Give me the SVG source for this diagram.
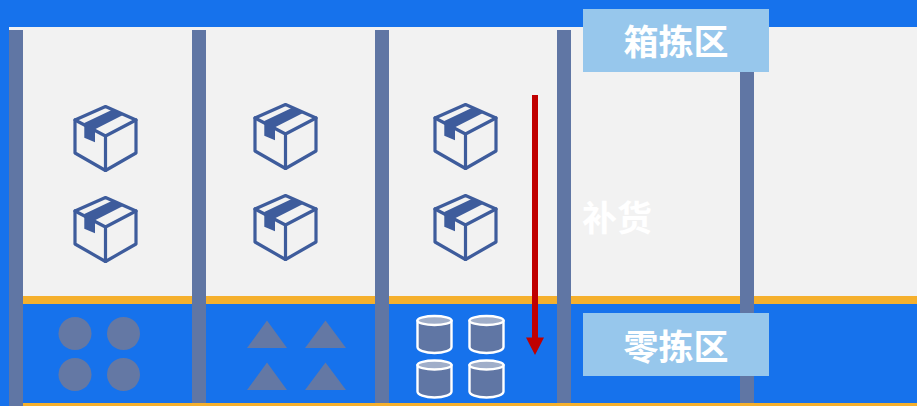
<svg xmlns="http://www.w3.org/2000/svg" width="917" height="406" viewBox="0 0 917 406">
<style>
.pillar{fill:#6076A4}
.shape{fill:#6478A4}
.band{fill:#F5B02D}
.label{fill:#97C7EC}
.t{font-family:"Noto Sans CJK SC","Noto Sans",sans-serif;font-weight:700;font-size:35px;fill:#fff;text-anchor:middle}
.box{fill:none;stroke:#3E5C9C;stroke-width:3.2;stroke-linejoin:round;stroke-linecap:round}
.tape{fill:#3E5C9C}
.cyl{fill:#6076A4;stroke:#fff;stroke-width:2.4}
.cap{fill:#A0AEC9;stroke:#fff;stroke-width:2.4}
</style>
<defs>
<g id="boxicon">
<path class="box" d="M30.500 0.500L61 14V47L30.500 64.500L0 47V14Z"/>
<path class="box" d="M0 14L30.500 30L61 14M30.500 30V64.500"/>
<path class="tape" d="M9.300 17L36.700 4L48 9L20 23.300V36.300L9.300 31.700Z"/>
</g>
<g id="cylicon">
<path class="cyl" d="M1 6V32C1 35 8 38 18 38C28 38 35 35 35 32V6Z"/>
<ellipse class="cap" cx="18" cy="5.500" rx="17" ry="4.500"/>
</g>
</defs>
<rect id="background" width="917" height="406" fill="#1672EC"/>
<rect id="upper-zone" x="9" y="27" width="908" height="269" fill="#F2F2F2"/>
<rect id="orange-band" class="band" x="9" y="296" width="908" height="8"/>
<rect id="orange-floor" class="band" x="9" y="403" width="908" height="3"/>
<g id="pillars">
<rect class="pillar" x="9" y="30" width="14" height="376"/>
<rect class="pillar" x="192" y="30" width="14" height="373"/>
<rect class="pillar" x="375" y="30" width="14" height="373"/>
<rect class="pillar" x="557" y="30" width="14" height="373"/>
<rect class="pillar" x="740" y="30" width="14" height="373"/>
</g>
<g id="boxes-col1"><use href="#boxicon" x="75" y="106"/><use href="#boxicon" x="75" y="197"/></g>
<g id="boxes-col2"><use href="#boxicon" x="255" y="104"/><use href="#boxicon" x="255" y="195"/></g>
<g id="boxes-col3"><use href="#boxicon" x="435" y="104"/><use href="#boxicon" x="435" y="195"/></g>
<g id="circles">
<circle class="shape" cx="75" cy="333.500" r="16.500"/>
<circle class="shape" cx="123.500" cy="333.500" r="16.500"/>
<circle class="shape" cx="75" cy="374.500" r="16.500"/>
<circle class="shape" cx="123.500" cy="374.500" r="16.500"/>
</g>
<g id="triangles">
<path class="shape" d="M267 320.500L287 348H247Z"/>
<path class="shape" d="M325.500 320.500L346 348H305Z"/>
<path class="shape" d="M267 362.500L287 390H247Z"/>
<path class="shape" d="M325.500 362.500L346 390H305Z"/>
</g>
<g id="cylinders">
<use href="#cylicon" x="416.500" y="315"/>
<use href="#cylicon" x="468.500" y="315"/>
<use href="#cylicon" x="416.500" y="359.500"/>
<use href="#cylicon" x="468.500" y="359.500"/>
</g>
<g id="connectors">
<path d="M532 95H538V337.500H544L535 355L526 337.500H532Z" fill="#C00000"/>
</g>
<g id="label-case"><rect class="label" x="583" y="9" width="186" height="63"/><text class="t" x="676" y="55">箱拣区</text></g>
<g id="label-piece"><rect class="label" x="583" y="313" width="186" height="63"/><text class="t" x="676" y="360">零拣区</text></g>
<g id="label-replenish"><text class="t" x="617" y="231">补货</text></g>
</svg>
